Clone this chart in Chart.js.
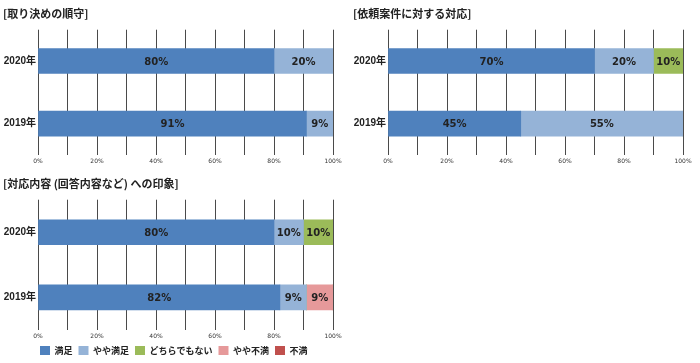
<!DOCTYPE html>
<html>
<head>
<meta charset="utf-8">
<script src="https://cdn.jsdelivr.net/npm/chart.js@4"></script>
<style>
  body { margin:0; background:#fff; width:700px; height:363px; position:relative; overflow:hidden; }
  canvas { position:absolute; }
</style>
</head>
<body>
<canvas id="c1" width="350" height="165" style="left:0;top:0"></canvas>
<canvas id="c2" width="350" height="165" style="left:350px;top:0"></canvas>
<canvas id="c3" width="350" height="195" style="left:0;top:170px"></canvas>
<script>
// categories
var years = ['2020年', '2019年'];
var seriesNames = ['満足', 'やや満足', 'どちらでもない', 'やや不満', '不満'];
var seriesColors = ['#4f81bd', '#95b3d7', '#9bbb59', '#e6999a', '#c0504d'];
var xTicks = [0, 20, 40, 60, 80, 100];

// [取り決めの順守]
var rule_manzoku = [80, 91];
var rule_yaya = [20, 9];

// [依頼案件に対する対応]
var req_manzoku = [70, 45];
var req_yaya = [20, 55];
var req_dochira = [10, 0];

// [対応内容 (回答内容など) への印象]
var imp_manzoku = [80, 82];
var imp_yaya = [10, 9];
var imp_dochira = [10, 0];
var imp_yayafuman = [0, 9];
var imp_fuman = [0, 0];

var jp = "'Noto Sans CJK JP', sans-serif";

// value labels inside the bar segments
var barLabels = {
  id: 'barLabels',
  afterDatasetsDraw: function(chart) {
    var ctx = chart.ctx;
    ctx.save();
    ctx.font = "bold 10px 'DejaVu Sans', sans-serif";
    ctx.fillStyle = '#222';
    ctx.textAlign = 'center';
    ctx.textBaseline = 'middle';
    chart.data.datasets.forEach(function(ds, i) {
      var meta = chart.getDatasetMeta(i);
      meta.data.forEach(function(bar, j) {
        var v = ds.data[j];
        if (!v) return;
        ctx.fillText(v + '%', (bar.x + bar.base) / 2, bar.y + 1);
      });
    });
    ctx.restore();
  }
};

// nudge title and legend to where the original has them
var boxPos = {
  id: 'boxPos',
  afterLayout: function(chart) {
    if (chart.titleBlock) chart.titleBlock.left = 3;
    if (chart.legend && chart.options.plugins.legend.display) {
      chart.legend.left = 34;
      chart.legend.right = chart.width;
    }
  }
};

function makeSets(list) {
  var sets = [];
  for (var i = 0; i < list.length; i++) {
    sets.push({
      label: seriesNames[i],
      data: list[i],
      backgroundColor: seriesColors[i],
      borderWidth: 0,
      barThickness: 25
    });
  }
  return sets;
}

function makeChart(id, title, list, showLegend) {
  return new Chart(document.getElementById(id), {
    type: 'bar',
    data: { labels: years, datasets: makeSets(list) },
    plugins: [barLabels, boxPos],
    options: {
      indexAxis: 'y',
      responsive: false,
      animation: false,
      layout: { padding: { left: 0, right: 17, top: 0, bottom: 0 } },
      plugins: {
        title: {
          display: true,
          text: title,
          align: 'start',
          color: '#222',
          font: { family: jp, size: 11, weight: 'bold' },
          padding: { top: 7, bottom: 9.5 }
        },
        legend: {
          display: showLegend,
          position: 'bottom',
          align: 'start',
          labels: {
            boxWidth: 10,
            boxHeight: 9,
            padding: 6,
            color: '#222',
            font: { family: jp, size: 9, weight: 'bold' }
          }
        },
        tooltip: { enabled: false }
      },
      scales: {
        x: {
          stacked: true,
          min: 0,
          max: 100,
          afterFit: function(s) { s.height = 10; },
          afterBuildTicks: function(s) {
            s.ticks = [];
            for (var v = 0; v <= 100; v += 10) s.ticks.push({ value: v });
          },
          grid: { color: '#4a4a4a', lineWidth: 1, drawTicks: false },
          border: { display: false },
          ticks: {
            padding: 3,
            color: '#333',
            font: { family: "'DejaVu Sans', sans-serif", size: 6 },
            callback: function(v) { return xTicks.indexOf(v) >= 0 ? v + '%' : ''; }
          }
        },
        y: {
          stacked: true,
          afterFit: function(s) { s.width = 38; },
          grid: { display: false, drawTicks: false },
          border: { display: false },
          ticks: {
            padding: 2,
            color: '#222',
            font: { family: "'Liberation Sans', 'Noto Sans CJK JP', sans-serif", size: 10, weight: 'bold' }
          }
        }
      }
    }
  });
}

makeChart('c1', '[取り決めの順守]', [rule_manzoku, rule_yaya], false);
makeChart('c2', '[依頼案件に対する対応]', [req_manzoku, req_yaya, req_dochira], false);
makeChart('c3', '[対応内容 (回答内容など) への印象]',
  [imp_manzoku, imp_yaya, imp_dochira, imp_yayafuman, imp_fuman], true);
</script>
</body>
</html>
